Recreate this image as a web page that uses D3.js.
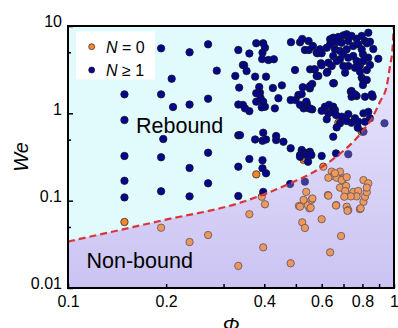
<!DOCTYPE html>
<html>
<head>
<meta charset="utf-8">
<script src="https://cdn.jsdelivr.net/npm/d3@7"></script>
<style>
  body { margin: 0; background: #fff; }
  svg text { font-family: "Liberation Sans", Arial, sans-serif; }
</style>
</head>
<body>
<div id="chart"></div>
<script>
let w = 398;
let h = 328;

// N = 0 drops: [phi, We]
const zeroPts = [
  [0.149,0.057],[0.193,0.049],[0.236,0.0336],[0.269,0.0404],[0.333,0.0179],[0.36,0.070],[0.397,0.0292],
  [0.482,0.0192],[0.637,0.0256],[0.688,0.0394],[0.60,0.0613],[0.523,0.0565],[0.533,0.0487],[0.511,0.0869],
  [0.55,0.0818],[0.544,0.0891],[0.558,0.102],[0.538,0.126],[0.627,0.116],[0.665,0.089],[0.716,0.0853],
  [0.724,0.078],[0.786,0.080],[0.806,0.097],[0.815,0.111],[0.825,0.125],[0.806,0.172],[0.834,0.158],
  [0.825,0.141],[0.607,0.245],[0.644,0.215],[0.651,0.193],[0.683,0.215],[0.629,0.183],[0.667,0.183],
  [0.699,0.18],[0.691,0.172],[0.683,0.141],[0.713,0.147],[0.708,0.129],[0.75,0.126],[0.777,0.129],
  [0.768,0.112],[0.737,0.112],[0.704,0.111],[0.629,0.114],[0.562,0.106],[0.555,0.0829],[0.664,0.088],
  [0.72,0.0765],[0.79,0.0818],[0.378,0.20],[0.393,0.111],[0.402,0.0909],[0.528,0.293],[0.533,0.305],
  [0.675,0.781],[0.796,0.616],[0.515,0.0853],[0.528,0.102],[0.716,0.186],[0.659,0.206]
];

// N >= 1 drops: [phi, We]
const multiPts = [
  [0.193,5.55],[0.236,5.0],[0.269,6.17],[0.333,5.31],[0.344,3.58],[0.286,3.08],[0.326,2.68],[0.208,2.49],[0.335,1.97],
  [0.149,1.65],[0.193,1.65],[0.269,1.47],[0.236,1.26],[0.21,1.18],[0.333,1.26],[0.149,0.839],[0.196,0.508],[0.333,0.56],
  [0.149,0.325],[0.193,0.314],[0.269,0.354],[0.236,0.237],[0.333,0.245],[0.149,0.169],[0.193,0.128],[0.269,0.158],
  [0.149,0.109],[0.236,0.112],[0.333,0.113],
  [0.378,6.34],[0.397,6.34],[0.402,5.64],[0.36,4.84],[0.395,4.95],[0.394,4.18],[0.412,4.08],[0.428,4.16],
  [0.483,6.53],[0.515,6.51],[0.523,7.1],[0.547,6.73],[0.533,5.31],[0.548,5.31],[0.564,5.9],[0.582,4.87],[0.6,4.87],
  [0.347,3.55],[0.353,3.05],[0.375,2.63],[0.405,2.63],[0.497,3.13],[0.553,3.19],[0.568,3.19],[0.586,2.68],[0.597,3.74],
  [0.625,3.0],[0.654,2.21],[0.386,2.0],[0.388,1.72],[0.425,1.95],[0.453,2.09],[0.525,1.99],[0.552,1.93],[0.561,2.17],
  [0.509,1.62],[0.499,1.42],[0.482,1.42],[0.442,1.49],[0.378,1.70],[0.39,1.49],[0.397,1.36],[0.378,1.36],[0.402,1.19],
  [0.393,1.17],[0.431,1.14],[0.344,1.25],[0.349,1.14],[0.36,1.06],[0.521,1.66],[0.515,1.25],[0.528,1.14],[0.54,1.30],
  [0.548,1.14],[0.561,1.11],[0.538,1.36],[0.6,1.07],[0.614,1.19],[0.632,1.25],[0.651,1.19],[0.659,1.09],[0.644,1.04],
  [0.629,1.0],[0.552,1.14],[0.622,0.855],[0.664,0.957],[0.691,0.915],[0.724,0.98],[0.759,0.877],[0.806,1.0],[0.834,1.04],
  [0.844,0.877],[0.815,0.802],[0.777,0.802],[0.741,0.781],[0.716,0.816],[0.683,0.77],[0.667,0.69],[0.774,0.685],
  [0.806,0.616],[0.651,0.54],[0.935,0.77],[0.737,1.77],[0.768,1.58],[0.741,1.55],[0.815,1.55],[0.86,1.55],
  [0.337,0.563],[0.375,0.502],[0.397,0.6],[0.395,0.485],[0.405,0.502],[0.435,0.55],[0.435,0.494],[0.458,0.473],
  [0.482,0.398],[0.521,0.38],[0.533,0.354],[0.552,0.363],[0.515,0.333],[0.54,0.333],[0.558,0.333],[0.515,0.318],
  [0.545,0.279],[0.36,0.30],[0.395,0.29],[0.395,0.235],[0.405,0.206],[0.6,0.325],[0.664,0.348],[0.724,0.34],
  [0.533,0.165],[0.48,0.155],[0.397,0.126],
  [0.637,7.04],[0.651,7.35],[0.675,7.48],[0.699,7.82],[0.716,8.03],[0.741,7.69],[0.768,7.15],[0.796,7.69],[0.834,8.38],
  [0.815,6.73],[0.827,6.34],[0.724,6.73],[0.691,6.44],[0.667,6.56],[0.637,6.17],[0.622,5.64],[0.593,5.41],[0.579,4.95],
  [0.659,5.41],[0.683,5.18],[0.716,5.41],[0.75,5.9],[0.777,6.17],[0.796,5.41],[0.699,4.74],[0.651,4.53],[0.683,4.16],
  [0.724,4.34],[0.75,4.53],[0.803,4.74],[0.834,4.34],[0.768,3.97],[0.724,3.48],[0.759,3.33],[0.786,3.55],[0.806,3.97],
  [0.895,4.22],[0.629,3.8],[0.6,3.55],[0.572,3.19],[0.667,3.97],[0.644,3.48],[0.699,3.48],[0.708,2.92],[0.579,2.68],
  [0.622,2.92],[0.796,2.56],[0.806,2.35],[0.651,2.21],[0.552,2.05],[0.741,1.80],[0.759,1.65],[0.855,1.65],
  [0.864,5.45],[0.844,6.6],[0.825,2.41],[0.803,2.11],[0.825,3.13],[0.844,3.58],[0.786,3.0]
];

// rebound / non-bound boundary
const boundaryPhi = [0.1, 0.193, 0.344, 0.48, 0.593, 0.675, 0.75, 0.806, 0.855, 0.906, 0.95, 0.972, 0.991, 0.998];
const boundaryWe  = [0.034, 0.059, 0.097, 0.158, 0.235, 0.333, 0.473, 0.644, 0.877, 1.36, 2.06, 3.48, 5.9, 10];

const xTicks = [0.1, 0.2, 0.3, 0.4, 0.5, 0.6, 0.7, 0.8, 0.9, 1];
const xLabels = [0.1, 0.2, 0.4, 0.6, 0.8, 1];
const yTicks = [0.01, 0.05, 0.1, 0.5, 1, 5, 10];
const yLabels = [0.01, 0.1, 1, 10];

const pLeft = 68, pRight = 394, pTop = 26, pBottom = 288;

let xScale = d3.scaleLog().domain([0.1, 1]).range([pLeft, pRight]);
let yScale = d3.scaleLog().domain([0.01, 10]).range([pBottom, pTop]);

let svg = d3.select("#chart")
    .append("svg")
    .attr("width", w)
    .attr("height", h);

let defs = svg.append("defs");
defs.append("clipPath").attr("id", "plotclip")
    .append("rect")
    .attr("x", pLeft).attr("y", pTop)
    .attr("width", pRight - pLeft).attr("height", pBottom - pTop);

let grad = defs.append("linearGradient")
    .attr("id", "lowgrad")
    .attr("gradientUnits", "userSpaceOnUse")
    .attr("x1", 0).attr("x2", 0)
    .attr("y1", pTop).attr("y2", pBottom);
grad.append("stop").attr("offset", "0%").attr("stop-color", "#eceafc");
grad.append("stop").attr("offset", "100%").attr("stop-color", "#cbc3f3");

const plot = svg.append("g").attr("clip-path", "url(#plotclip)");

// rebound background
plot.append("rect")
    .attr("x", pLeft).attr("y", pTop)
    .attr("width", pRight - pLeft).attr("height", pBottom - pTop)
    .attr("fill", "#e1fafc");

const boundary = boundaryPhi.map((p, i) => ({ phi: p, we: boundaryWe[i] }));

let area = d3.area()
    .x(d => xScale(d.phi))
    .y0(pBottom)
    .y1(d => yScale(d.we))
    .curve(d3.curveMonotoneX);

const regionData = boundary.concat([{ phi: 1, we: 10 }]);

// non-bound background
plot.append("path")
    .datum(regionData)
    .attr("d", area)
    .attr("fill", "url(#lowgrad)");

// points
plot.selectAll("circle.zero")
    .data(zeroPts)
    .enter()
    .append("circle")
    .attr("class", "zero")
    .attr("cx", d => xScale(d[0]))
    .attr("cy", d => yScale(d[1]))
    .attr("r", 3.7)
    .attr("fill", "#f5862a")
    .attr("stroke", "#3a2a2a")
    .attr("stroke-width", 0.8);

plot.selectAll("circle.multi")
    .data(multiPts)
    .enter()
    .append("circle")
    .attr("class", "multi")
    .attr("cx", d => xScale(d[0]))
    .attr("cy", d => yScale(d[1]))
    .attr("r", 3.7)
    .attr("fill", "#05058c")
    .attr("stroke", "#15152a")
    .attr("stroke-width", 0.8);

// translucent veil of the non-bound region over the points
plot.append("path")
    .datum(regionData)
    .attr("d", area)
    .attr("fill", "url(#lowgrad)")
    .attr("opacity", 0.25);

let line = d3.line()
    .x(d => xScale(d.phi))
    .y(d => yScale(d.we))
    .curve(d3.curveMonotoneX);

plot.append("path")
    .datum(boundary)
    .attr("d", line)
    .attr("fill", "none")
    .attr("stroke", "#d8353c")
    .attr("stroke-width", 2.2)
    .attr("stroke-dasharray", "7,4");

// region labels
svg.append("text")
    .attr("x", 136).attr("y", 132.5)
    .attr("font-size", 21.5)
    .attr("fill", "#000")
    .text("Rebound");

svg.append("text")
    .attr("x", 86.5).attr("y", 268.3)
    .attr("font-size", 21.5)
    .attr("fill", "#000")
    .text("Non-bound");

// axes
let xAxis = d3.axisBottom(xScale)
    .tickValues(xTicks)
    .tickSize(-4)
    .tickPadding(8)
    .tickFormat(d => xLabels.includes(d) ? d3.format("~g")(d) : "");

let gx = svg.append("g")
    .attr("transform", "translate(0," + pBottom + ")")
    .call(xAxis);
gx.select(".domain").remove();
gx.selectAll("text").attr("font-size", 16).attr("fill", "#000")
    .attr("font-family", "Liberation Sans, Arial, sans-serif");
gx.selectAll("line").attr("stroke", "#000").attr("stroke-width", 1.5);

let yAxis = d3.axisLeft(yScale)
    .tickValues(yTicks)
    .tickSize(-5)
    .tickPadding(6)
    .tickFormat(d => yLabels.includes(d) ? d3.format("~g")(d) : "");

let gy = svg.append("g")
    .attr("transform", "translate(" + pLeft + ",0)")
    .call(yAxis);
gy.select(".domain").remove();
gy.selectAll("text").attr("font-size", 16).attr("fill", "#000").attr("dy", "0.05em")
    .attr("font-family", "Liberation Sans, Arial, sans-serif");
gy.selectAll(".tick")
    .filter(d => !yLabels.includes(d))
    .select("line").attr("x2", 3);
gy.selectAll("line").attr("stroke", "#000").attr("stroke-width", 1.5);

// frame
svg.append("rect")
    .attr("x", pLeft).attr("y", pTop)
    .attr("width", pRight - pLeft).attr("height", pBottom - pTop)
    .attr("fill", "none")
    .attr("stroke", "#000")
    .attr("stroke-width", 2);

// axis titles
svg.append("text")
    .attr("transform", "translate(28," + ((pTop + pBottom) / 2) + ") rotate(-90)")
    .attr("text-anchor", "middle")
    .attr("font-size", 20)
    .attr("font-style", "italic")
    .text("We");

svg.append("text")
    .attr("x", (pLeft + pRight) / 2)
    .attr("y", 332)
    .attr("text-anchor", "middle")
    .attr("font-size", 20)
    .attr("font-style", "italic")
    .text("Φ");

// legend
let legend = svg.append("g");
legend.append("rect")
    .attr("x", 76).attr("y", 31.5)
    .attr("width", 79).attr("height", 48)
    .attr("fill", "#fff");

const legendItems = [
  { color: "#f5862a", stroke: "#3a2a2a", label: ["N", " = 0"] },
  { color: "#05058c", stroke: "#15152a", label: ["N", " ≥ 1"] }
];

legend.selectAll("circle")
    .data(legendItems)
    .enter()
    .append("circle")
    .attr("cx", 91.7)
    .attr("cy", (d, i) => 46.7 + i * 23.3)
    .attr("r", 3)
    .attr("fill", d => d.color)
    .attr("stroke", d => d.stroke)
    .attr("stroke-width", 0.7);

legend.selectAll("text")
    .data(legendItems)
    .enter()
    .append("text")
    .attr("x", 106)
    .attr("y", (d, i) => 52.5 + i * 23.3)
    .attr("font-size", 16)
    .each(function(d) {
        let t = d3.select(this);
        t.append("tspan").attr("font-style", "italic").text(d.label[0]);
        t.append("tspan").text(d.label[1]);
    });
</script>
</body>
</html>
